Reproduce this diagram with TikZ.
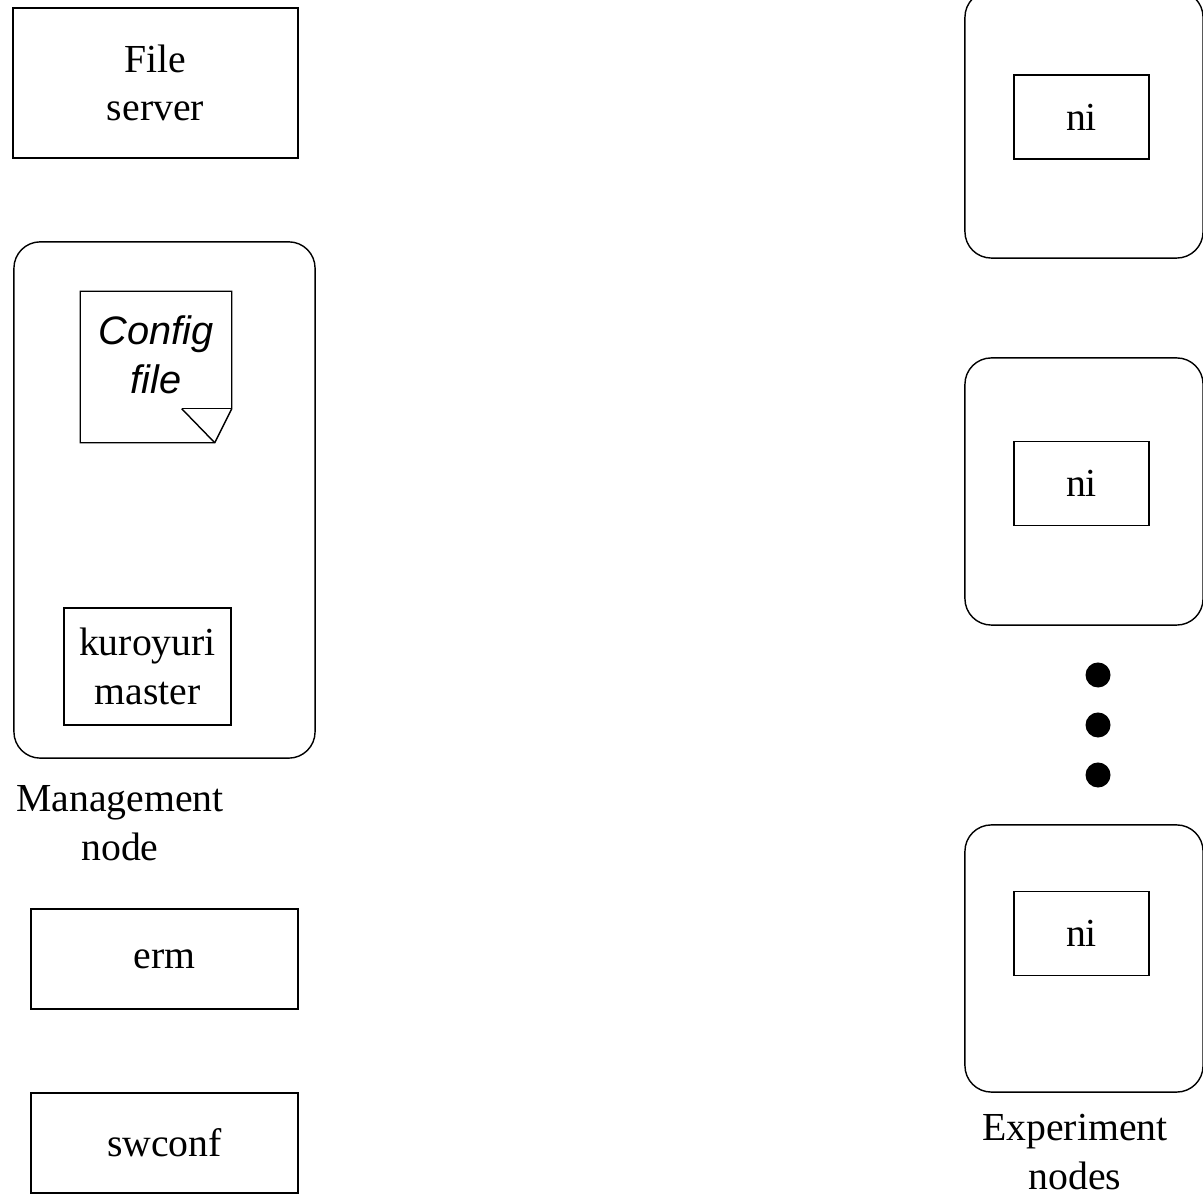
\documentclass[tikz,border=0pt]{standalone}
\usepackage{fontspec}
\setmainfont{Liberation Serif}
\newfontfamily\cfgfont{Liberation Sans}
\usetikzlibrary{positioning}

\begin{document}
\begin{tikzpicture}[x=0.01cm, y=-0.01cm, font=\fontsize{11.3}{13.8}\selectfont]
    \tikzset{
        box/.style={rectangle, draw, align=center, inner sep=0pt},
        hostbox/.style={rectangle, draw, rounded corners=7.5pt, inner sep=0pt},
        dotnode/.style={circle, fill, minimum size=0.25cm, inner sep=0pt}
    }
    \useasboundingbox (0,0) rectangle (1203,1195);

    % management side
    \node (fs) [box, minimum width=2.85cm, minimum height=1.5cm] at (155.5,83) {File\\server};
    \node (mgmt) [hostbox, minimum width=3.01cm, minimum height=5.16cm] at (164.5,500) {};
    \node (cfg) [minimum width=1.5cm, minimum height=1.5cm, inner sep=0pt] at (156,367) {};
    \draw (cfg.north west) -- (cfg.north east) -- ([yshift=0.34cm]cfg.south east) -- ([xshift=-0.17cm]cfg.south east) -- (cfg.south west) -- cycle;
    \draw ([xshift=-0.5cm, yshift=0.34cm]cfg.south east) -- ([yshift=0.34cm]cfg.south east);
    \draw ([xshift=-0.5cm, yshift=0.34cm]cfg.south east) -- ([xshift=-0.17cm]cfg.south east);
    \node (cfgtext) [align=center] at (156,355) {\cfgfont\itshape Config\\\cfgfont\itshape file};
    \node (master) [box, minimum width=1.67cm, minimum height=1.17cm] at (147.5,666.5) {kuroyuri\\master};
    \node (mgmtlabel) [align=center] at (120,823) {Management\\node};
    \node (erm) [box, minimum width=2.67cm, minimum height=1.0cm] at (164.5,959) {erm};
    \node (swconf) [box, minimum width=2.67cm, minimum height=1.0cm] at (164.5,1143) {swconf};

    % experiment side
    \node (exp1) [hostbox, minimum width=2.38cm, minimum height=2.67cm] at (1084,124.5) {};
    \node (ni1) [box, minimum width=1.35cm, minimum height=0.84cm] at (1081.5,117) {ni};
    \node (exp2) [hostbox, minimum width=2.38cm, minimum height=2.67cm] at (1084,491.5) {};
    \node (ni2) [box, minimum width=1.35cm, minimum height=0.84cm] at (1081.5,483.5) {ni};
    \node (dot1) [dotnode] at (1098,675) {};
    \node (dot2) [dotnode] at (1098,725) {};
    \node (dot3) [dotnode] at (1098,775) {};
    \node (exp3) [hostbox, minimum width=2.38cm, minimum height=2.67cm] at (1084,958.5) {};
    \node (ni3) [box, minimum width=1.35cm, minimum height=0.84cm] at (1081.5,933.5) {ni};
    \node (explabel) [align=center] at (1075,1152) {Experiment\\nodes};
\end{tikzpicture}
\end{document}
